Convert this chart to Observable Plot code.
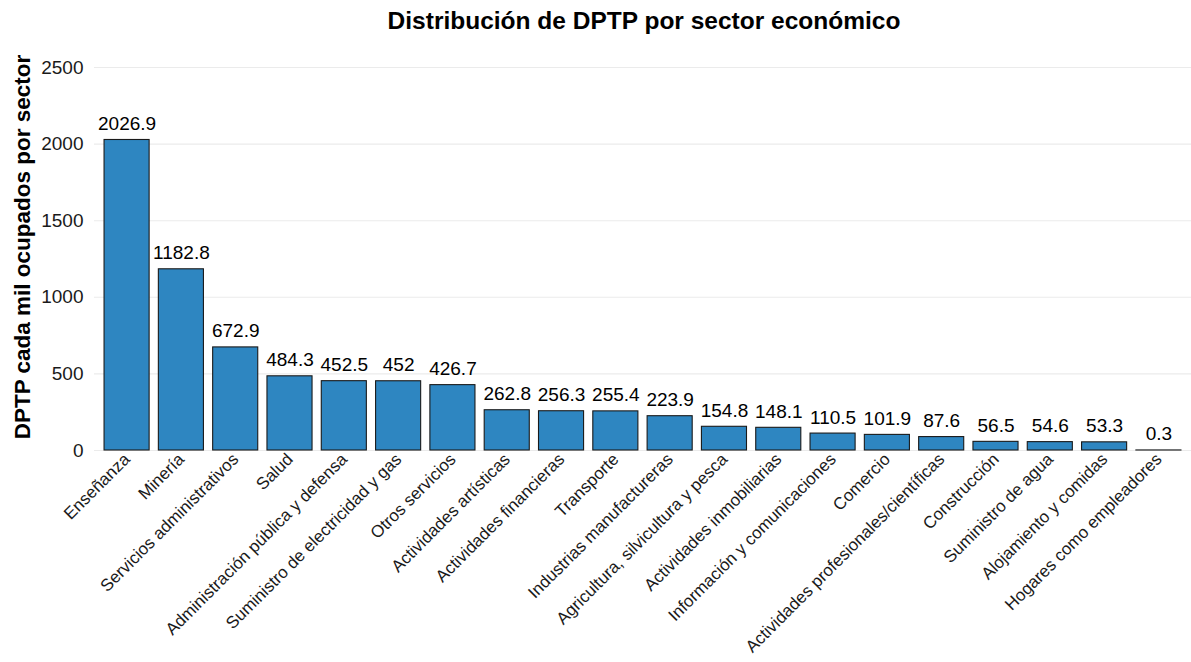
<!DOCTYPE html>
<html>
<head>
<meta charset="utf-8">
<script src="https://cdn.jsdelivr.net/npm/d3@7"></script>
<script src="https://cdn.jsdelivr.net/npm/@observablehq/plot@0.6"></script>
<style>
  body { margin: 0; background: #fff; font-family: "Liberation Sans", Arial, Helvetica, sans-serif; }
  #wrap { position: relative; width: 1191px; height: 662px; }
  #title { position: absolute; left: 98px; width: 1092px; top: 7px; text-align: center;
           font-size: 24.5px; font-weight: bold; color: #000; line-height: 28px; }
  #chart { position: absolute; left: 0; top: 40px; }
  #chart svg { overflow: visible; }
</style>
</head>
<body>
<div id="wrap">
  <div id="title">Distribución de DPTP por sector económico</div>
  <div id="chart"></div>
</div>
<script>
const sectors = [
  "Enseñanza", "Minería", "Servicios administrativos", "Salud",
  "Administración pública y defensa", "Suministro de electricidad y gas",
  "Otros servicios", "Actividades artísticas", "Actividades financieras",
  "Transporte", "Industrias manufactureras", "Agricultura, silvicultura y pesca",
  "Actividades inmobiliarias", "Información y comunicaciones", "Comercio",
  "Actividades profesionales/científicas", "Construcción", "Suministro de agua",
  "Alojamiento y comidas", "Hogares como empleadores"
];
const values = [
  2026.9, 1182.8, 672.9, 484.3, 452.5, 452, 426.7, 262.8, 256.3, 255.4,
  223.9, 154.8, 148.1, 110.5, 101.9, 87.6, 56.5, 54.6, 53.3, 0.3
];
const yTicks = [0, 500, 1000, 1500, 2000, 2500];
const yLabel = "DPTP cada mil ocupados por sector";

const data = sectors.map((s, i) => ({sector: s, value: values[i]}));

const chart = Plot.plot({
  width: 1191,
  height: 622,
  marginLeft: 94,
  marginRight: 0,
  marginTop: 27,
  marginBottom: 212,
  style: {fontFamily: "'Liberation Sans', Arial, Helvetica, sans-serif", background: "#fff", color: "#000"},
  x: {domain: sectors, paddingInner: 0.17, paddingOuter: 0.185, round: false, label: null},
  y: {domain: [0, 2500], label: null},
  marks: [
    Plot.gridY(yTicks, {stroke: "#ebebeb", strokeOpacity: 1, strokeWidth: 1.1}),
    Plot.barY(data, {x: "sector", y: "value", fill: "#2E86C1", stroke: "#1a1a1a", strokeWidth: 1.1}),
    Plot.text(data, {x: "sector", y: "value", text: d => String(d.value), lineAnchor: "bottom", dy: -10, fontSize: 19, fill: "#000"}),
    Plot.axisY({ticks: yTicks, tickSize: 0, tickPadding: 11, fontSize: 19, label: null, tickFormat: d => String(d), fill: "#1a1a1a"}),
    Plot.axisX({tickSize: 0, tickPadding: 6, tickRotate: -45, fontSize: 17, label: null, fill: "#1a1a1a"}),
    Plot.text([yLabel], {frameAnchor: "left", text: d => d, textAnchor: "middle", rotate: -90, dx: -72, dy: -12, fontSize: 22.5, fontWeight: "bold", fill: "#000"})
  ]
});
document.getElementById("chart").appendChild(chart);
</script>
</body>
</html>
